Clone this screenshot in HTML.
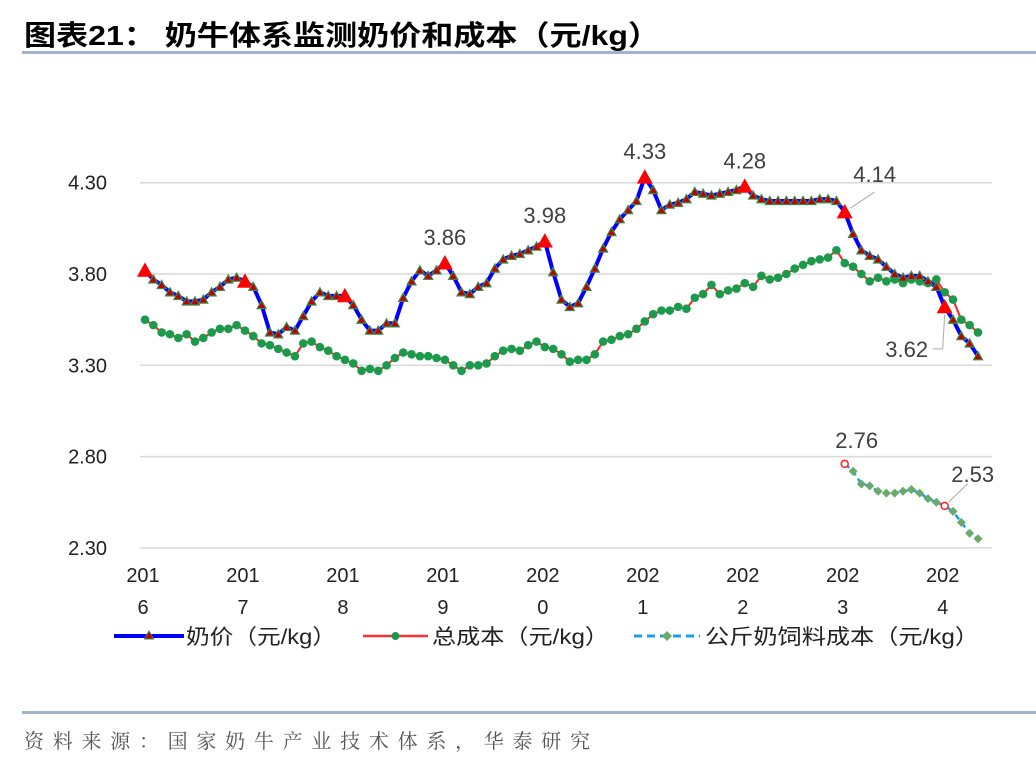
<!DOCTYPE html>
<html><head><meta charset="utf-8">
<style>
body{margin:0;background:#fff;width:1036px;height:764px;overflow:hidden;}
svg text{font-family:"Liberation Sans","Noto Sans CJK SC",sans-serif;}
</style></head>
<body>
<svg id="chart" width="1036" height="764" viewBox="0 0 1036 764" xmlns="http://www.w3.org/2000/svg">
<text x="24" y="45" font-size="28" font-weight="bold" fill="#000" textLength="636" lengthAdjust="spacingAndGlyphs">图表21：  奶牛体系监测奶价和成本（元/kg）</text>
<rect x="22" y="51" width="1014" height="3" fill="#9fb4cc"/>
<g id="grid"></g>
<g id="ylabels"></g>
<g id="xlabels"></g>
<g id="series"></g>
<g id="annots"></g>
<g>
 <g>
  <line x1="114" y1="636" x2="184" y2="636" stroke="#0000ff" stroke-width="4"/>
  <polygon points="149,631 144.5,639 153.5,639" fill="#c00000" stroke="#3a8a4a" stroke-width="1"/>
  <text x="186" y="644" font-size="21" fill="#222" textLength="150" lengthAdjust="spacingAndGlyphs">奶价（元/kg）</text>
 </g>
 <g>
  <line x1="363" y1="636" x2="428" y2="636" stroke="#ff3030" stroke-width="2.5"/>
  <circle cx="395.5" cy="636" r="4" fill="#1a9a4a"/>
  <text x="432" y="644" font-size="21" fill="#222" textLength="177" lengthAdjust="spacingAndGlyphs">总成本（元/kg）</text>
 </g>
 <g>
  <line x1="634" y1="636" x2="700" y2="636" stroke="#1aa0e8" stroke-width="3" stroke-dasharray="8,5"/>
  <polygon points="667,631 672,636 667,641 662,636" fill="#6aaa6a"/>
  <text x="705" y="644" font-size="21" fill="#222" textLength="274" lengthAdjust="spacingAndGlyphs">公斤奶饲料成本（元/kg）</text>
 </g>
</g>
<rect x="22" y="711" width="1014" height="3" fill="#9fb4cc"/>
<text x="24" y="748" font-size="20" fill="#555" textLength="566" lengthAdjust="spacing" style="font-family:'Noto Serif CJK SC','Liberation Serif',serif">资料来源：国家奶牛产业技术体系，华泰研究</text>
</svg>
<script>
const yTicks=[2.30,2.80,3.30,3.80,4.30];
const yearLabels=["2016","2017","2018","2019","2020","2021","2022","2023","2024"];
const milkPrice=[3.82,3.77,3.74,3.70,3.68,3.65,3.65,3.66,3.70,3.73,3.77,3.78,
3.76,3.73,3.63,3.48,3.47,3.51,3.49,3.57,3.65,3.70,3.68,3.68,
3.68,3.63,3.55,3.49,3.49,3.53,3.53,3.67,3.76,3.82,3.79,3.82,
3.86,3.79,3.70,3.69,3.73,3.75,3.83,3.88,3.90,3.91,3.93,3.95,
3.98,3.81,3.66,3.62,3.64,3.73,3.83,3.94,4.03,4.10,4.15,4.20,
4.33,4.26,4.15,4.18,4.19,4.21,4.25,4.24,4.23,4.24,4.25,4.26,
4.28,4.23,4.21,4.20,4.20,4.20,4.20,4.20,4.20,4.21,4.21,4.20,
4.14,4.02,3.93,3.90,3.88,3.84,3.80,3.78,3.79,3.79,3.76,3.73,
3.62,3.55,3.46,3.42,3.35];
const totalCost=[3.55,3.52,3.48,3.47,3.45,3.47,3.43,3.45,3.48,3.50,3.50,3.52,
3.49,3.46,3.42,3.41,3.39,3.37,3.35,3.42,3.43,3.40,3.38,3.35,
3.33,3.31,3.27,3.28,3.27,3.30,3.34,3.37,3.36,3.35,3.35,3.34,
3.33,3.30,3.27,3.30,3.30,3.31,3.35,3.38,3.39,3.38,3.41,3.43,
3.40,3.39,3.36,3.32,3.33,3.33,3.36,3.43,3.44,3.46,3.47,3.50,
3.54,3.58,3.60,3.60,3.62,3.61,3.67,3.69,3.74,3.69,3.71,3.72,
3.75,3.73,3.79,3.77,3.78,3.80,3.83,3.85,3.87,3.88,3.89,3.93,
3.86,3.84,3.80,3.76,3.78,3.76,3.77,3.75,3.77,3.76,3.75,3.77,
3.70,3.66,3.55,3.52,3.48];
const feedStart=84;
const feedCost=[2.76,2.72,2.65,2.64,2.61,2.60,2.60,2.61,2.62,2.60,2.57,2.55,2.53,2.50,2.44,2.38,2.35];
const milkLabels=[[36,"3.86"],[48,"3.98"],[60,"4.33"],[72,"4.28"],[84,"4.14"],[96,"3.62"]];
const feedLabels=[[0,"2.76"],[12,"2.53"]];

const NS="http://www.w3.org/2000/svg";
const X0=145,DX=8.33,Y0=182.7,PXU=182.6;
function xs(i){return X0+i*DX;}
function ys(v){return Y0+(4.30-v)*PXU;}
function mk(tag,attrs,parent){const e=document.createElementNS(NS,tag);for(const k in attrs)e.setAttribute(k,attrs[k]);parent.appendChild(e);return e;}
const grid=document.getElementById('grid'),yl=document.getElementById('ylabels'),xl=document.getElementById('xlabels'),ser=document.getElementById('series'),an=document.getElementById('annots');
yTicks.forEach(t=>{
 const l=mk('line',{x1:140,x2:992,y1:ys(t),y2:ys(t),stroke:'#d9d9d9','stroke-width':1.5},grid);
 
 
 const tx=mk('text',{x:107,y:ys(t)+7,'font-size':20,fill:'#222','text-anchor':'end'},yl);
 tx.textContent=t.toFixed(2);
 
 
});
yearLabels.forEach((yr,k)=>{
 const x=xs(k*12)-2;
 const t1=mk('text',{x:x,y:582,'font-size':20,fill:'#222','text-anchor':'middle'},xl);
 t1.textContent=yr.slice(0,3);
 
 
 const t2=mk('text',{x:x,y:614,'font-size':20,fill:'#222','text-anchor':'middle'},xl);
 t2.textContent=yr.slice(3);
 
 
});
const cl=mk('polyline',{points:totalCost.map((v,i)=>xs(i)+','+ys(v)).join(' '),fill:'none',stroke:'#ff2020','stroke-width':2},ser);


totalCost.forEach((v,i)=>{
 const c=mk('circle',{cx:xs(i),cy:ys(v),r:4.3,fill:'#1a9a4a'},ser);
 
 
});
const ml=mk('polyline',{points:milkPrice.map((v,i)=>xs(i)+','+ys(v)).join(' '),fill:'none',stroke:'#0000ff','stroke-width':4,'stroke-linejoin':'round'},ser);


milkPrice.forEach((v,i)=>{
 const x=xs(i),y=ys(v);
 const big=i%12===0;
 const s=big?8:4.5;
 const p=mk('polygon',{points:`${x},${y-s} ${x-s},${y+s*0.8} ${x+s},${y+s*0.8}`,fill:big?'#ff0000':'#c00000',stroke:big?'none':'#3a8a4a','stroke-width':1.2},ser);
 
 
});
const fl=mk('polyline',{points:feedCost.map((v,i)=>xs(i+feedStart)+','+ys(v)).join(' '),fill:'none',stroke:'#1aa0e8','stroke-width':2.5,'stroke-dasharray':'6,4'},ser);


feedCost.forEach((v,i)=>{
 const x=xs(i+feedStart),y=ys(v);
 let e;
 if(i%12===0){e=mk('circle',{cx:x,cy:y,r:3.5,fill:'#fff',stroke:'#ff2020','stroke-width':1.5},ser);}
 else{e=mk('polygon',{points:`${x},${y-4.5} ${x+4.5},${y} ${x},${y+4.5} ${x-4.5},${y}`,fill:'#6aaa6a'},ser);}
 
 
});
milkLabels.forEach(([i,lab])=>{
 const x=xs(i),y=ys(milkPrice[i]);
 let tx,ty;
 if(lab==="4.14"){tx=x+30;ty=y-30;mk('line',{x1:x+6,y1:y-4,x2:x+30,y2:y-20,stroke:'#aaa','stroke-width':1},an);}
 else if(lab==="3.62"){tx=x-38;ty=y+50;mk('polyline',{points:`${x},${y+8} ${x-2},${y+42} ${x-12},${y+42}`,fill:'none',stroke:'#aaa','stroke-width':1},an);}
 else {tx=x;ty=y-18;}
 const t=mk('text',{x:tx,y:ty,'font-size':22,fill:'#404040','text-anchor':'middle'},an);
 t.textContent=lab;
 
 
});
feedLabels.forEach(([i,lab])=>{
 const x=xs(i+feedStart),y=ys(feedCost[i]);
 let tx=x+12,ty=y-16;
 if(i>0){tx=x+28;ty=y-24;mk('line',{x1:x+4,y1:y-4,x2:x+23,y2:y-22,stroke:'#aaa','stroke-width':1},an);}
 const t=mk('text',{x:tx,y:ty,'font-size':22,fill:'#404040','text-anchor':'middle'},an);
 t.textContent=lab;
 
 
});
</script>
</body></html>
